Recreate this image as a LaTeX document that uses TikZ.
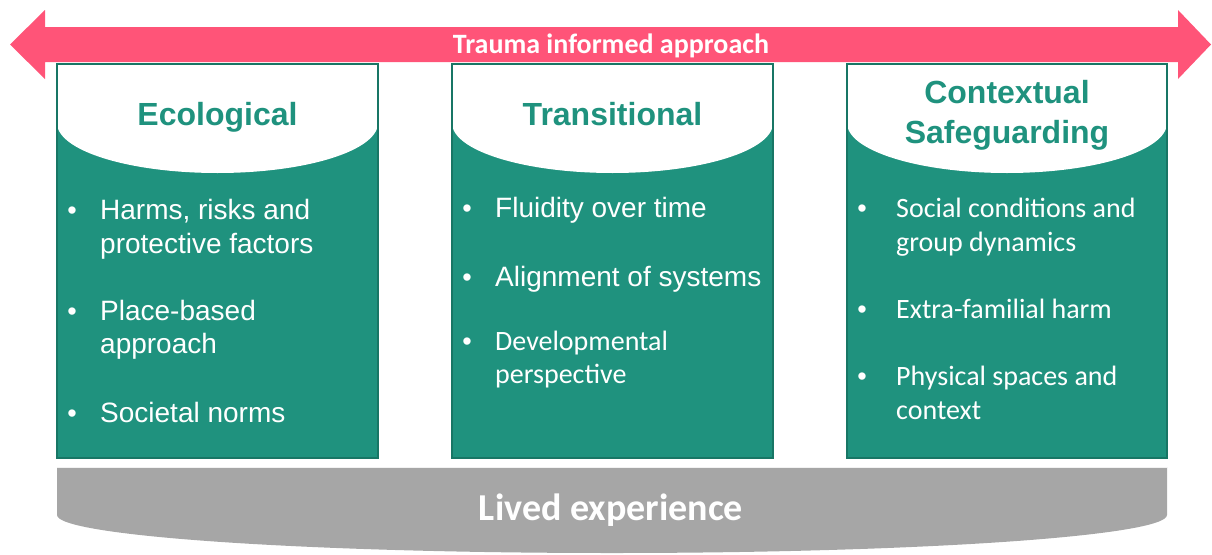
\documentclass[tikz,border=0pt]{standalone}
\usepackage{fontspec}
\newfontfamily\arialf{Liberation Sans}
\newfontfamily\calif{Carlito}
\definecolor{tealfill}{RGB}{31,146,126}
\definecolor{tealline}{RGB}{24,118,101}
\definecolor{pinkarrow}{RGB}{255,84,120}
\definecolor{greybase}{RGB}{166,166,166}
\tikzset{
  panel/.style={fill=tealfill},
  panelborder/.style={draw=tealline, line width=1.8pt},
  headcap/.style={fill=white},
  ttl/.style={anchor=base, inner sep=0, text=tealfill, font=\arialf\bfseries\fontsize{32}{36}\selectfont},
  itemA/.style={anchor=base west, inner sep=0, text=white, font=\arialf\fontsize{28}{33}\selectfont},
  itemC/.style={anchor=base west, inner sep=0, text=white, font=\calif\fontsize{28}{33}\selectfont},
  bul/.style={anchor=base, inner sep=0, text=white, font=\arialf\fontsize{27}{30}\selectfont},
  banner/.style={anchor=base, inner sep=0, text=white, font=\calif\bfseries\fontsize{28}{32}\selectfont},
  basetxt/.style={anchor=base, inner sep=0, text=white, font=\calif\bfseries\fontsize{38}{42}\selectfont},
}
\begin{document}
\begin{tikzpicture}[x=1pt, y=-1pt]
\useasboundingbox (0,0) rectangle (1212,554);
% arrow
\fill[pinkarrow] (10,44.5) -- (45,10) -- (45,27) -- (1178,27) -- (1178,10) -- (1211,44.5) -- (1178,79) -- (1178,62) -- (45,62) -- (45,79) -- cycle;
\node[banner] (trauma) at (611,53) {Trauma informed approach};
% boxes
\foreach \xl/\xr in {57/378, 452/773, 847/1167}{
  \fill[panel] (\xl,64) rectangle (\xr,458);
  \fill[headcap] (\xl,64) -- (\xr,64) -- (\xr,123)
     arc[start angle=0, end angle=180, x radius={(\xr-\xl)/2}, y radius=50] -- cycle;
  \draw[panelborder] (\xl,64) rectangle (\xr,458);
}
% titles
\node[ttl] (eco) at (217.5,125) {Ecological};
\node[ttl] (tra) at (612.5,125) {Transitional};
\node[ttl] (ctx1) at (1007,103) {Contextual};
\node[ttl] (ctx2) at (1007,143) {Safeguarding};
% box 1 items
\node[bul] (b11) at (72,219) {•};
\node[itemA] (e1a) at (100,219) {Harms, risks and};
\node[itemA] (e1b) at (100,253) {protective factors};
\node[bul] (b12) at (72,320) {•};
\node[itemA] (e2a) at (100,320) {Place-based};
\node[itemA] (e2b) at (100,353) {approach};
\node[bul] (b13) at (72,422) {•};
\node[itemA] (e3a) at (100,422) {Societal norms};
% box 2 items
\node[bul] (b21) at (467,217) {•};
\node[itemA] (t1a) at (495,217) {Fluidity over time};
\node[bul] (b22) at (467,286) {•};
\node[itemA] (t2a) at (495,286) {Alignment of systems};
\node[bul] (b23) at (467,350) {•};
\node[itemC] (t3a) at (495,350) {Developmental};
\node[itemC] (t3b) at (495,383) {perspective};
% box 3 items
\node[bul] (b31) at (862,217) {•};
\node[itemC] (c1a) at (896,217) {Social conditions and};
\node[itemC] (c1b) at (896,251) {group dynamics};
\node[bul] (b32) at (862,318) {•};
\node[itemC] (c2a) at (896,318) {Extra-familial harm};
\node[bul] (b33) at (862,385) {•};
\node[itemC] (c3a) at (896,385) {Physical spaces and};
\node[itemC] (c3b) at (896,419) {context};
% base
\fill[greybase] (57,467) -- (1167,467) -- (1167,515)
   arc[start angle=0, end angle=180, x radius=555, y radius=38] -- cycle;
\draw[white!85!greybase, line width=0.8pt] (57,467.5) -- (1167,467.5);
\node[basetxt] (lived) at (611,520) {Lived experience};
\end{tikzpicture}
\end{document}
